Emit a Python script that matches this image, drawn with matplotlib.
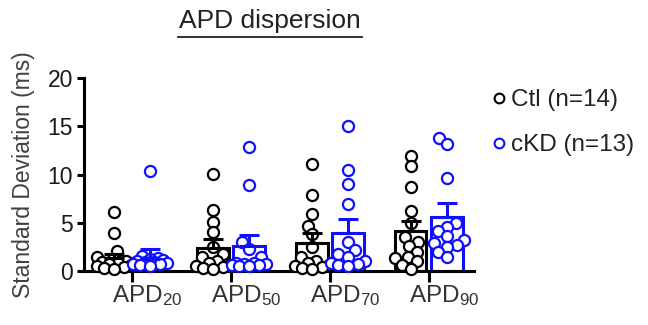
import numpy as np
import matplotlib
matplotlib.use("Agg")
import matplotlib.pyplot as plt
import matplotlib.transforms as mtransforms
from matplotlib.lines import Line2D

plt.rcParams['font.family'] = ['Liberation Sans', 'DejaVu Sans']
plt.rcParams['mathtext.fontset'] = 'custom'
plt.rcParams['mathtext.rm'] = 'Liberation Sans'
plt.rcParams['mathtext.it'] = 'Liberation Sans'

# ---------------------------------------------------------------
# Datos
# ---------------------------------------------------------------
categorias = ["APD$_{20}$", "APD$_{50}$", "APD$_{70}$", "APD$_{90}$"]
grupos = ["Ctl (n=14)", "cKD (n=13)"]
colores = ["black", "#1010ff"]

media_ctl = [1.3, 2.4, 2.9, 4.1]
sem_ctl = [0.45, 0.95, 1.0, 1.1]
media_ckd = [1.2, 2.6, 3.9, 5.6]
sem_ckd = [1.1, 1.1, 1.5, 1.4]

puntos_ctl = [
    [6.1, 3.9, 2.1, 1.5, 1.2, 1.0, 0.9, 0.8, 0.7, 0.6, 0.5, 0.4, 0.3, 0.2],
    [10.1, 6.3, 5.1, 4.0, 2.5, 1.8, 1.5, 1.0, 0.8, 0.6, 0.5, 0.4, 0.3, 0.2],
    [11.1, 7.9, 5.9, 4.7, 3.8, 2.5, 1.5, 1.0, 0.8, 0.6, 0.5, 0.4, 0.3, 0.2],
    [11.9, 10.9, 8.7, 6.2, 5.0, 3.5, 3.0, 2.6, 2.0, 1.5, 1.3, 1.0, 0.6, 0.2],
]
puntos_ckd = [
    [10.4, 1.6, 1.3, 1.2, 1.1, 1.0, 0.9, 0.9, 0.8, 0.7, 0.7, 0.6, 0.5],
    [12.8, 8.9, 3.0, 2.3, 1.5, 0.8, 0.8, 0.7, 0.7, 0.6, 0.6, 0.5, 0.5],
    [15.0, 10.5, 9.0, 6.9, 3.0, 2.2, 1.8, 1.5, 1.0, 0.8, 0.7, 0.6, 0.5],
    [13.8, 13.2, 9.6, 5.0, 4.6, 4.1, 3.6, 3.2, 2.9, 2.7, 2.5, 2.0, 1.5],
]

# ---------------------------------------------------------------
# Figura
# ---------------------------------------------------------------
W, H = 648, 325
fig = plt.figure(figsize=(W / 100, H / 100), dpi=100)
ax = fig.add_axes([84 / W, 1 - 271 / H, (474 - 84) / W, (271 - 78) / H])

XLIM = (-0.485, 3.455)
YLIM = (0, 20)
ax.set_xlim(*XLIM)
ax.set_ylim(*YLIM)

px_x = (474 - 84) / (XLIM[1] - XLIM[0])
px_y = (271 - 78) / (YLIM[1] - YLIM[0])

ancho = 0.32
desp = 0.185
dmin = 9.5    # px, separación deseada entre centros
ancho_max = 17  # px, desplazamiento lateral máximo


def swarm(valores):
    # ubicación tipo "beeswarm" sencilla, limitada al ancho de la barra
    orden = np.argsort(valores)
    cands = sorted(range(-ancho_max, ancho_max + 1), key=lambda c: (abs(c), c))
    colocados = []
    offs = np.zeros(len(valores))
    for i in orden:
        y = valores[i] * px_y
        mejor, mejor_d = 0, -1
        for c in cands:
            d = min([np.hypot(c - cx, y - cy) for cx, cy in colocados] or [1e9])
            if d >= dmin:
                mejor = c
                break
            if d > mejor_d:
                mejor, mejor_d = c, d
        colocados.append((mejor, y))
        offs[i] = mejor / px_x
    return offs


x = np.arange(len(categorias))
for g, (medias, sems, puntos, col) in enumerate(
        [(media_ctl, sem_ctl, puntos_ctl, colores[0]),
         (media_ckd, sem_ckd, puntos_ckd, colores[1])]):
    xs = x + (-desp if g == 0 else desp)
    ax.bar(xs, medias, width=ancho, facecolor='white', edgecolor=col,
           linewidth=2.2, zorder=2)
    for i in range(len(categorias)):
        vals = np.array(puntos[i])
        ox = swarm(vals)
        ax.scatter(xs[i] + ox, vals, s=64, facecolor='white', edgecolor=col,
                   linewidth=1.6, zorder=3, clip_on=False)
    ax.errorbar(xs, medias, yerr=[np.zeros(len(sems)), sems], fmt='none',
                ecolor=col, elinewidth=2.2, capsize=7, capthick=2.2, zorder=4)

for s in ['top', 'right']:
    ax.spines[s].set_visible(False)
for s in ['left', 'bottom']:
    ax.spines[s].set_linewidth(2.2)

ax.set_yticks([0, 5, 10, 15, 20])
ax.set_xticks(x)
ax.set_xticklabels(categorias)
ax.tick_params(axis='y', width=2.2, length=5, labelsize=16.5, colors='black',
               labelcolor='#1a1a1a', pad=3)
ax.tick_params(axis='x', width=2.2, length=8, labelsize=17.5, colors='black',
               labelcolor='#333333', pad=1)
# las etiquetas del eje x quedan corridas a la derecha (subíndice colgando)
corrimiento = mtransforms.ScaledTranslation(15 / 100, 0, fig.dpi_scale_trans)
for lbl in ax.get_xticklabels():
    lbl.set_transform(lbl.get_transform() + corrimiento)

ax.set_ylabel("Standard Deviation (ms)", fontsize=16.5, color='#404040', labelpad=9)

# titulo subrayado
fig.text(270 / W, 1 - 21 / H, "APD dispersion", ha='center', va='center',
         fontsize=19, color='#222222')
fig.add_artist(Line2D([178 / W, 362 / W], [1 - 37 / H, 1 - 37 / H],
                      color='#222222', linewidth=1.3, transform=fig.transFigure))

# leyenda
manejadores = [Line2D([], [], linestyle='none', marker='o', markersize=7,
                      markerfacecolor='white', markeredgecolor=c,
                      markeredgewidth=1.5) for c in colores]
leg = fig.legend(manejadores, grupos, loc='upper left',
                 bbox_to_anchor=(481 / W, 1 - 77 / H), frameon=False,
                 fontsize=17.5, handlelength=0.5, handletextpad=0.25,
                 labelspacing=0.95, borderpad=0)
for t in leg.get_texts():
    t.set_color('#222222')

fig.savefig("out.png", dpi=100)
